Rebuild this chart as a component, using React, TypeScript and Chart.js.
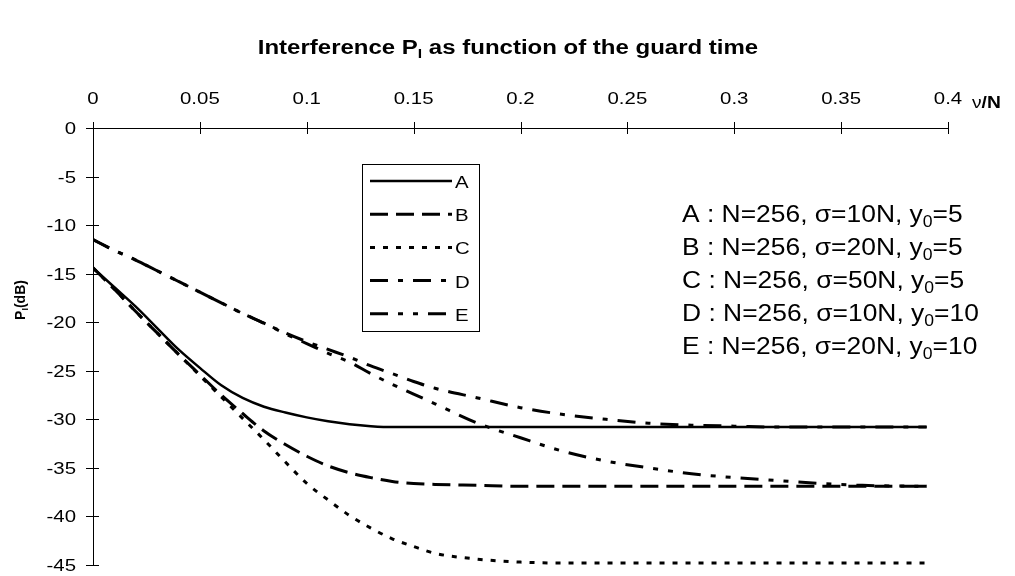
import React, { useEffect, useRef } from "react";
import { Chart, registerables } from "chart.js";

Chart.register(...registerables);

// ---- data ----
const X = [0, 0.01, 0.02, 0.03, 0.04, 0.05, 0.06, 0.07, 0.08, 0.09, 0.1, 0.11, 0.12, 0.13, 0.14, 0.15, 0.16,
  0.18, 0.2, 0.22, 0.24, 0.26, 0.28, 0.3, 0.32, 0.34, 0.36, 0.39];
const A = [-14.4, -16.4, -18.4, -20.6, -22.8, -24.7, -26.5, -27.8, -28.7, -29.3, -29.8, -30.2, -30.5, -30.7, -30.8, -30.8, -30.8,
  -30.8, -30.8, -30.8, -30.8, -30.8, -30.8, -30.8, -30.8, -30.8, -30.8, -30.8];
const B = [-14.4, -16.6, -18.9, -21.1, -23.3, -25.4, -27.5, -29.4, -31.2, -32.6, -33.8, -34.8, -35.5, -36.0, -36.4, -36.6, -36.7,
  -36.8, -36.9, -36.9, -36.9, -36.9, -36.9, -36.9, -36.9, -36.9, -36.9, -36.9];
const C = [-14.4, -16.6, -18.9, -21.1, -23.3, -25.5, -27.7, -29.9, -32.1, -34.4, -36.6, -38.3, -39.9, -41.2, -42.3, -43.1, -43.8,
  -44.4, -44.7, -44.8, -44.8, -44.8, -44.8, -44.8, -44.8, -44.8, -44.8, -44.8];
const D = [-11.5, -12.6, -13.6, -14.7, -15.8, -16.9, -18.0, -19.1, -20.1, -21.1, -22.0, -22.8, -23.6, -24.5, -25.3, -26.1, -26.8,
  -27.8, -28.8, -29.5, -30.0, -30.4, -30.6, -30.7, -30.8, -30.8, -30.8, -30.8];
const E = [-11.5, -12.6, -13.6, -14.7, -15.8, -16.9, -18.0, -19.1, -20.1, -21.2, -22.2, -23.2, -24.1, -25.3, -26.4, -27.4, -28.4,
  -30.4, -31.9, -33.3, -34.3, -35.0, -35.6, -36.0, -36.3, -36.6, -36.8, -36.9];

const SERIES_NAMES = ["A", "B", "C", "D", "E"];
const SERIES_VALUES = [A, B, C, D, E];
const NOTE_N = ["256", "256", "256", "256", "256"];
const NOTE_SIGMA = ["10N", "20N", "50N", "10N", "20N"];
const NOTE_Y0 = ["5", "5", "5", "10", "10"];

const X_MIN = 0;
const X_MAX = 0.4;
const X_STEP = 0.05;
const Y_MIN = -45;
const Y_MAX = 0;
const Y_STEP = 5;

const TITLE_PRE = "Interference P";
const TITLE_SUB = "I";
const TITLE_POST = " as function of the guard time";
const Y_LABEL_PRE = "P";
const Y_LABEL_SUB = "I";
const Y_LABEL_POST = "(dB)";
const X_LABEL_NU = "ν";
const X_LABEL_POST = "/N";

// ---- styles ----
const FONT = '"Liberation Sans", Arial, Helvetica, sans-serif';
const DASHES: number[][] = [[], [18, 8], [5, 8], [18, 10, 5, 10], [18, 10, 5, 10, 5, 10]];
const WIDTHS = [2.5, 3, 3, 3, 3];
const STRETCH = 1.2;

type Part = { t: string; sub?: boolean; bold?: boolean };

function drawParts(
  ctx: CanvasRenderingContext2D, parts: Part[], x: number, y: number, size: number,
  bold: boolean, align: "left" | "center" | "right", sx = 1,
) {
  const fontOf = (p: Part) => `${(p.bold ?? bold) ? "bold " : ""}${p.sub ? Math.round(size * 0.65) : size}px ${FONT}`;
  let total = 0;
  for (const p of parts) {
    ctx.font = fontOf(p);
    total += ctx.measureText(p.t).width;
  }
  ctx.save();
  ctx.translate(x, y);
  ctx.scale(sx, 1);
  let cx = align === "center" ? -total / 2 : align === "right" ? -total : 0;
  ctx.textAlign = "left";
  ctx.textBaseline = "alphabetic";
  for (const p of parts) {
    ctx.font = fontOf(p);
    ctx.fillText(p.t, cx, p.sub ? size * 0.22 : 0);
    cx += ctx.measureText(p.t).width;
  }
  ctx.restore();
}

const fmtX = (v: number) => String(+Number(v).toFixed(2));

const overlayPlugin = {
  id: "overlay",
  afterDraw(chart: any) {
    const ctx: CanvasRenderingContext2D = chart.ctx;
    const xs = chart.scales.x;
    const ys = chart.scales.y;
    const { top } = chart.chartArea;
    const axisX = xs.left;
    ctx.save();
    ctx.fillStyle = "#000";
    ctx.strokeStyle = "#000";
    ctx.lineWidth = 1;
    ctx.setLineDash([]);
    // crossing tick marks
    ctx.beginPath();
    xs.ticks.forEach((t: any) => {
      const px = Math.round(xs.getPixelForValue(t.value)) + 0.5;
      ctx.moveTo(px, top - 6);
      ctx.lineTo(px, top + 6);
    });
    ys.ticks.forEach((t: any) => {
      const py = Math.round(ys.getPixelForValue(t.value)) + 0.5;
      ctx.moveTo(axisX - 7, py);
      ctx.lineTo(axisX + 6, py);
    });
    ctx.stroke();

    // tick labels (from the library's scales)
    xs.ticks.forEach((t: any) => {
      const px = xs.getPixelForValue(t.value);
      drawParts(ctx, [{ t: fmtX(t.value) }], px, 104, 17, false, "center", STRETCH);
    });
    ys.ticks.forEach((t: any) => {
      const py = ys.getPixelForValue(t.value);
      drawParts(ctx, [{ t: String(t.value) }], 76, py + 6, 17, false, "right", STRETCH);
    });

    // title
    drawParts(ctx, [{ t: TITLE_PRE }, { t: TITLE_SUB, sub: true }, { t: TITLE_POST }], 508, 54, 20, true, "center", STRETCH);

    // y label
    ctx.save();
    ctx.translate(25, 300);
    ctx.rotate(-Math.PI / 2);
    drawParts(ctx, [{ t: Y_LABEL_PRE }, { t: Y_LABEL_SUB, sub: true }, { t: Y_LABEL_POST }], 0, 0, 14, true, "center");
    ctx.restore();

    // x label
    drawParts(ctx, [{ t: X_LABEL_NU, bold: false }, { t: X_LABEL_POST, bold: true }], 972, 108, 16, true, "left", STRETCH);

    // legend box
    const lx = 362.5, ly = 164.5, lw = 117, lh = 167;
    ctx.fillStyle = "#fff";
    ctx.fillRect(lx, ly, lw, lh);
    ctx.strokeRect(lx, ly, lw, lh);
    ctx.fillStyle = "#000";
    SERIES_NAMES.forEach((name, i) => {
      const yy = 181 + i * 33.2;
      ctx.save();
      ctx.lineWidth = WIDTHS[i];
      ctx.setLineDash(DASHES[i]);
      ctx.beginPath();
      ctx.moveTo(370, yy);
      ctx.lineTo(452, yy);
      ctx.stroke();
      ctx.restore();
      drawParts(ctx, [{ t: name }], 455, yy + 7, 17, false, "left", STRETCH);
    });

    // annotations
    SERIES_NAMES.forEach((name, i) => {
      const yy = 213 + i * 33 + 9;
      drawParts(ctx, [
        { t: `${name} : N=${NOTE_N[i]}, σ=${NOTE_SIGMA[i]}, y` },
        { t: "0", sub: true },
        { t: `=${NOTE_Y0[i]}` },
      ], 682, yy, 24, false, "left", 1.1);
    });
    ctx.restore();
  },
};

export default function App() {
  const canvasRef = useRef<HTMLCanvasElement | null>(null);
  useEffect(() => {
    document.body.style.margin = "0";
    const canvas = canvasRef.current!;
    const chart = new Chart(canvas, {
      type: "line",
      data: {
        datasets: SERIES_NAMES.map((name, i) => ({
          label: name,
          data: X.map((x, j) => ({ x, y: SERIES_VALUES[i][j] })),
          borderColor: "#000",
          backgroundColor: "#000",
          borderWidth: WIDTHS[i],
          borderDash: DASHES[i],
          pointRadius: 0,
          fill: false,
          cubicInterpolationMode: "monotone" as const,
        })),
      },
      options: {
        responsive: false,
        animation: false,
        layout: { padding: { left: 0, top: 0, right: 67, bottom: 11 } },
        plugins: {
          legend: { display: false },
          title: { display: false },
          tooltip: { enabled: false },
        },
        scales: {
          x: {
            type: "linear",
            position: "top",
            min: X_MIN,
            max: X_MAX,
            grid: { display: false, drawTicks: false },
            border: { display: true, color: "#000", width: 1 },
            ticks: { stepSize: X_STEP, autoSkip: false, display: false },
            afterFit: (s: any) => { s.height = 128; s.paddingLeft = 0; s.paddingRight = 0; },
          },
          y: {
            type: "linear",
            min: Y_MIN,
            max: Y_MAX,
            grid: { display: false, drawTicks: false },
            border: { display: true, color: "#000", width: 1 },
            ticks: { stepSize: Y_STEP, autoSkip: false, display: false },
            afterFit: (s: any) => { s.width = 93; s.paddingTop = 0; s.paddingBottom = 0; },
          },
        },
      },
      plugins: [overlayPlugin],
    } as any);
    return () => chart.destroy();
  }, []);
  return (
    <div style={{ position: "fixed", left: 0, top: 0, width: 1015, height: 576, background: "#fff" }}>
      <canvas ref={canvasRef} width={1015} height={576} style={{ width: 1015, height: 576, display: "block" }} />
    </div>
  );
}
